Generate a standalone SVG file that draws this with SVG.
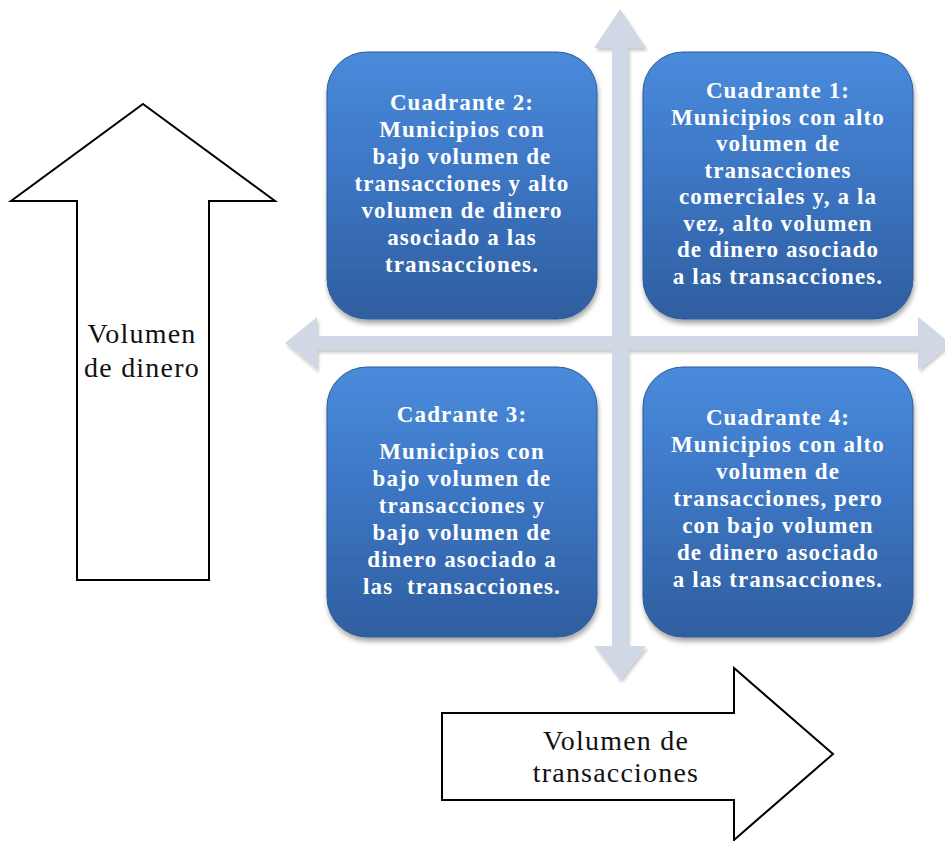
<svg xmlns="http://www.w3.org/2000/svg" width="945" height="841" viewBox="0 0 945 841">
  <defs>
    <linearGradient id="boxGrad" x1="0" y1="0" x2="0" y2="1">
      <stop offset="0" stop-color="#4a8bdc"/>
      <stop offset="0.5" stop-color="#3b74c1"/>
      <stop offset="1" stop-color="#2f5e9f"/>
    </linearGradient>
    <filter id="shadow" x="-10%" y="-10%" width="125%" height="125%">
      <feGaussianBlur in="SourceAlpha" stdDeviation="2.5"/>
      <feOffset dx="1" dy="4" result="b"/>
      <feComponentTransfer><feFuncA type="linear" slope="0.35"/></feComponentTransfer>
      <feMerge><feMergeNode/><feMergeNode in="SourceGraphic"/></feMerge>
    </filter>
    <filter id="axShadow" x="-10%" y="-10%" width="125%" height="125%">
      <feGaussianBlur in="SourceAlpha" stdDeviation="1.5"/>
      <feOffset dx="2" dy="3" result="b"/>
      <feComponentTransfer><feFuncA type="linear" slope="0.2"/></feComponentTransfer>
      <feMerge><feMergeNode/><feMergeNode in="SourceGraphic"/></feMerge>
    </filter>
  </defs>
  <style>
    .box { fill: url(#boxGrad); stroke: #2d5a98; stroke-width: 1; filter: url(#shadow); }
    .qt { font-family: "Liberation Serif", "Times New Roman", serif; font-weight: bold; font-size: 23px; fill: #ffffff; text-anchor: middle; letter-spacing: 1.1px; }
    .axis { fill: #d0d7e5; filter: url(#axShadow); }
    .big { fill: #ffffff; stroke: #000000; stroke-width: 2; }
    .lbl { font-family: "Liberation Serif", "Times New Roman", serif; font-size: 28px; fill: #111111; text-anchor: middle; letter-spacing: 1.2px; }
  </style>

  <rect width="945" height="841" fill="#ffffff"/>

  <g id="axes">
    <path class="axis" d="M620,9 L646,48 L628,48 L628,336 L918,336 L918,317 L950,343 L918,370 L918,350 L628,350 L628,646 L646,646 L620,680 L594,646 L612,646 L612,350 L317,350 L317,370 L285,343 L317,317 L317,336 L612,336 L612,48 L594,48 Z"/>
  </g>

  <g id="q2">
    <rect class="box" x="327" y="52" width="270" height="267" rx="40" ry="40"/>
    <text class="qt" x="462" y="110">Cuadrante 2:</text>
    <text class="qt" x="462" y="137">Municipios con</text>
    <text class="qt" x="462" y="164">bajo volumen de</text>
    <text class="qt" x="462" y="191">transacciones y alto</text>
    <text class="qt" x="462" y="218">volumen de dinero</text>
    <text class="qt" x="462" y="245">asociado a las</text>
    <text class="qt" x="462" y="272">transacciones.</text>
  </g>

  <g id="q1">
    <rect class="box" x="643" y="52" width="270" height="267" rx="40" ry="40"/>
    <text class="qt" x="778" y="98">Cuadrante 1:</text>
    <text class="qt" x="778" y="124.5">Municipios con alto</text>
    <text class="qt" x="778" y="151">volumen de</text>
    <text class="qt" x="778" y="177.5">transacciones</text>
    <text class="qt" x="778" y="204">comerciales y, a la</text>
    <text class="qt" x="778" y="230.5">vez, alto volumen</text>
    <text class="qt" x="778" y="257">de dinero asociado</text>
    <text class="qt" x="778" y="283.5">a las transacciones.</text>
  </g>

  <g id="q3">
    <rect class="box" x="327" y="367" width="270" height="270" rx="40" ry="40"/>
    <text class="qt" x="462" y="422">Cadrante 3:</text>
    <text class="qt" x="462" y="459">Municipios con</text>
    <text class="qt" x="462" y="486">bajo volumen de</text>
    <text class="qt" x="462" y="513">transacciones y</text>
    <text class="qt" x="462" y="540">bajo volumen de</text>
    <text class="qt" x="462" y="567">dinero asociado a</text>
    <text class="qt" x="462" y="594" xml:space="preserve">las  transacciones.</text>
  </g>

  <g id="q4">
    <rect class="box" x="643" y="367" width="270" height="270" rx="40" ry="40"/>
    <text class="qt" x="778" y="425">Cuadrante 4:</text>
    <text class="qt" x="778" y="452">Municipios con alto</text>
    <text class="qt" x="778" y="479">volumen de</text>
    <text class="qt" x="778" y="506">transacciones, pero</text>
    <text class="qt" x="778" y="533">con bajo volumen</text>
    <text class="qt" x="778" y="560">de dinero asociado</text>
    <text class="qt" x="778" y="587">a las transacciones.</text>
  </g>

  <g id="volumen-dinero">
    <path class="big" d="M143,104 L275,201 L209,201 L209,580 L77,580 L77,201 L11,201 Z"/>
    <text class="lbl" x="142" y="343">Volumen</text>
    <text class="lbl" x="142" y="377">de dinero</text>
  </g>

  <g id="volumen-transacciones">
    <path class="big" d="M442,713 L734,713 L734,668 L833,754 L734,840 L734,800 L442,800 Z"/>
    <text class="lbl" x="616" y="750">Volumen de</text>
    <text class="lbl" x="616" y="782">transacciones</text>
  </g>
</svg>
